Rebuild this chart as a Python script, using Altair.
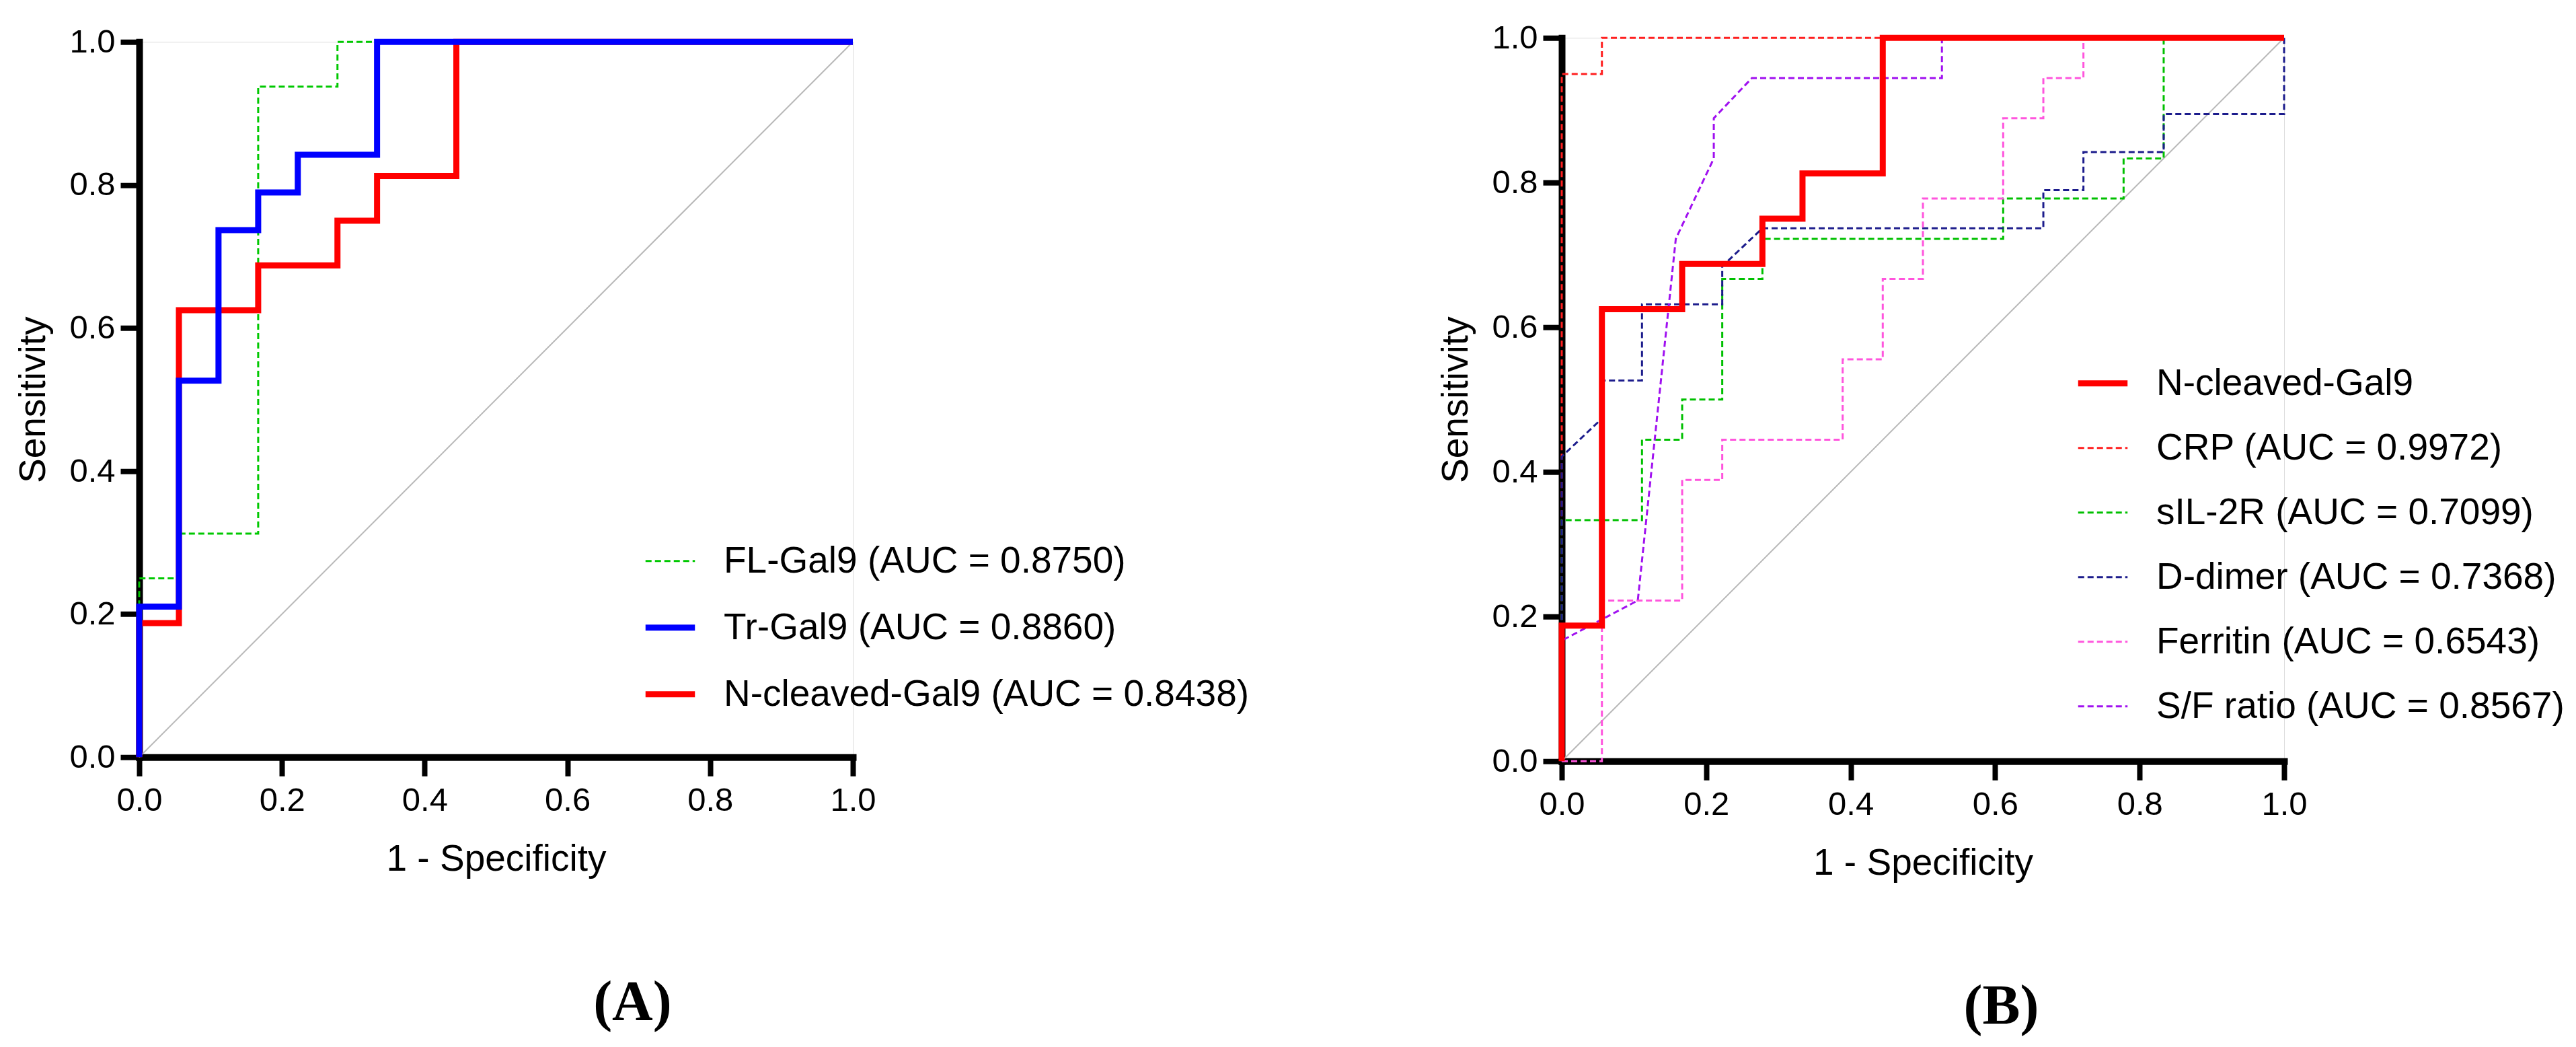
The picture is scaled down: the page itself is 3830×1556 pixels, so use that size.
import altair as alt
import pandas as pd

# ---------------- Panel A data ----------------
a_names = ["FL-Gal9 (AUC = 0.8750)", "Tr-Gal9 (AUC = 0.8860)", "N-cleaved-Gal9 (AUC = 0.8438)"]
fl_x = [0, 0, 0.0556, 0.0556, 0.1667, 0.1667, 0.2778, 0.2778, 1.0]
fl_y = [0, 0.25, 0.25, 0.3125, 0.3125, 0.9375, 0.9375, 1.0, 1.0]
tr_x = [0, 0, 0.0556, 0.0556, 0.1111, 0.1111, 0.1667, 0.1667, 0.2222, 0.2222, 0.3333, 0.3333, 1.0]
tr_y = [0, 0.2105, 0.2105, 0.5263, 0.5263, 0.7368, 0.7368, 0.7895, 0.7895, 0.8421, 0.8421, 1.0, 1.0]
nc_x = [0, 0, 0.0556, 0.0556, 0.1667, 0.1667, 0.2778, 0.2778, 0.3333, 0.3333, 0.4444, 0.4444, 1.0]
nc_y = [0, 0.1875, 0.1875, 0.625, 0.625, 0.6875, 0.6875, 0.75, 0.75, 0.8125, 0.8125, 1.0, 1.0]

# ---------------- Panel B data ----------------
b_names = ["N-cleaved-Gal9", "CRP (AUC = 0.9972)", "sIL-2R (AUC = 0.7099)",
           "D-dimer (AUC = 0.7368)", "Ferritin (AUC = 0.6543)", "S/F ratio (AUC = 0.8567)"]
crp_x = [0, 0, 0.0556, 0.0556, 1.0]
crp_y = [0, 0.95, 0.95, 1.0, 1.0]
il_x = [0, 0, 0.1111, 0.1111, 0.1667, 0.1667, 0.2222, 0.2222, 0.2778, 0.2778, 0.6111, 0.6111,
        0.7778, 0.7778, 0.8333, 0.8333, 1.0]
il_y = [0, 0.3333, 0.3333, 0.4444, 0.4444, 0.5, 0.5, 0.6667, 0.6667, 0.7222, 0.7222, 0.7778,
        0.7778, 0.8333, 0.8333, 1.0, 1.0]
dd_x = [0, 0, 0.0556, 0.0556, 0.1111, 0.1111, 0.2222, 0.2222, 0.2778, 0.6667, 0.6667, 0.7222,
        0.7222, 0.8333, 0.8333, 1.0, 1.0]
dd_y = [0, 0.4211, 0.4737, 0.5263, 0.5263, 0.6316, 0.6316, 0.6842, 0.7368, 0.7368, 0.7895, 0.7895,
        0.8421, 0.8421, 0.8947, 0.8947, 1.0]
fe_x = [0, 0.0556, 0.0556, 0.1667, 0.1667, 0.2222, 0.2222, 0.3889, 0.3889, 0.4444, 0.4444, 0.5,
        0.5, 0.6111, 0.6111, 0.6667, 0.6667, 0.7222, 0.7222, 1.0]
fe_y = [0, 0, 0.2222, 0.2222, 0.3889, 0.3889, 0.4444, 0.4444, 0.5556, 0.5556, 0.6667, 0.6667,
        0.7778, 0.7778, 0.8889, 0.8889, 0.9444, 0.9444, 1.0, 1.0]
sf_x = [0, 0, 0.1053, 0.1579, 0.2105, 0.2105, 0.2632, 0.5263, 0.5263, 1.0]
sf_y = [0, 0.1667, 0.2222, 0.7222, 0.8333, 0.8889, 0.9444, 0.9444, 1.0, 1.0]

diag_x = [0, 1]
diag_y = [0, 1]
ticks = [0, 0.2, 0.4, 0.6, 0.8, 1.0]

# ---------------- styles ----------------
a_colors = ["#00C800", "#0000FF", "#FF0000"]
a_dashes = [[9, 5], [1, 0], [1, 0]]
a_widths = [3, 9, 9]
a_draw = [0, 2, 1]

b_colors = ["#FF0000", "#FF2020", "#00C000", "#1C1C8C", "#FF55DD", "#A010F0"]
b_dashes = [[1, 0], [9, 5], [9, 5], [9, 5], [9, 5], [9, 5]]
b_widths = [9, 3, 3, 3, 3, 3]
b_draw = [1, 2, 3, 4, 5, 0]

FONT = "Liberation Sans"


def make_df(names, xs_list, ys_list):
    rows = []
    for n, xs, ys in zip(names, xs_list, ys_list):
        for i, (x, y) in enumerate(zip(xs, ys)):
            rows.append({"series": n, "x": x, "y": y, "idx": i})
    return pd.DataFrame(rows)


def panel(names, xs_list, ys_list, colors, dashes, widths, draw, w, h, lx, ly, label):
    df = make_df(names, xs_list, ys_list)
    xenc = alt.X("x:Q", scale=alt.Scale(domain=[0, 1], nice=False, zero=False),
                 axis=alt.Axis(values=ticks, format=".1f", title="1 - Specificity",
                               labelFlush=False, labelPadding=12, titlePadding=36))
    yenc = alt.Y("y:Q", scale=alt.Scale(domain=[0, 1], nice=False, zero=False),
                 axis=alt.Axis(values=ticks, format=".1f", title="Sensitivity",
                               labelFlush=False, labelPadding=8, titlePadding=24))
    leg = alt.Legend(title=None, orient="none", legendX=lx, legendY=ly,
                     symbolType="stroke", symbolSize=5400, labelFontSize=55,
                     labelFont=FONT, labelColor="black", labelLimit=3000,
                     labelOffset=38, rowPadding=29, padding=0)
    enc = dict(
        x=xenc, y=yenc,
        color=alt.Color("series:N", scale=alt.Scale(domain=names, range=colors), legend=leg),
        strokeDash=alt.StrokeDash("series:N", scale=alt.Scale(domain=names, range=dashes), legend=leg),
        strokeWidth=alt.StrokeWidth("series:N",
                                    scale=alt.Scale(type="ordinal", domain=names, range=widths),
                                    legend=leg),
        order=alt.Order("idx:Q"),
    )
    diag = alt.Chart(pd.DataFrame({"x": diag_x, "y": diag_y})).mark_line(
        color="#B8B8B8", strokeWidth=2).encode(x=xenc, y=yenc)
    layers = [diag]
    for k in draw:
        layers.append(
            alt.Chart(df).transform_filter(alt.datum.series == names[k])
            .mark_line(strokeJoin="miter", strokeCap="butt").encode(**enc)
        )
    return alt.layer(*layers).properties(
        width=w, height=h,
        title=alt.TitleParams(label, orient="bottom", anchor="middle", frame="bounds",
                              font="Liberation Serif", fontSize=84, fontWeight="bold",
                              color="black", offset=146),
    )


pa = panel(a_names, [fl_x, tr_x, nc_x], [fl_y, tr_y, nc_y], a_colors, a_dashes, a_widths,
           a_draw, 1061, 1063, 748, 733, "(A)")
pb = panel(b_names, [nc_x, crp_x, il_x, dd_x, fe_x, sf_x], [nc_y, crp_y, il_y, dd_y, fe_y, sf_y],
           b_colors, b_dashes, b_widths, b_draw, 1074, 1075, 763, 472, "(B)")

chart = (
    alt.hconcat(pa, pb, spacing=278, center=True)
    .resolve_scale(color="independent", strokeDash="independent", strokeWidth="independent",
                   x="independent", y="independent")
    .properties(padding={"left": 22, "top": 31, "right": 0, "bottom": 0})
    .configure_view(stroke=None)
    .configure(background="white")
    .configure_axis(domainColor="black", domainWidth=10, domainCap="square",
                    tickColor="black", tickWidth=8, tickSize=28, grid=False,
                    labelFont=FONT, labelFontSize=49, labelColor="black",
                    titleFont=FONT, titleFontSize=55, titleFontWeight="normal",
                    titleColor="black")
)

chart.save("out.html", embed_options={"renderer": "svg", "actions": False})
